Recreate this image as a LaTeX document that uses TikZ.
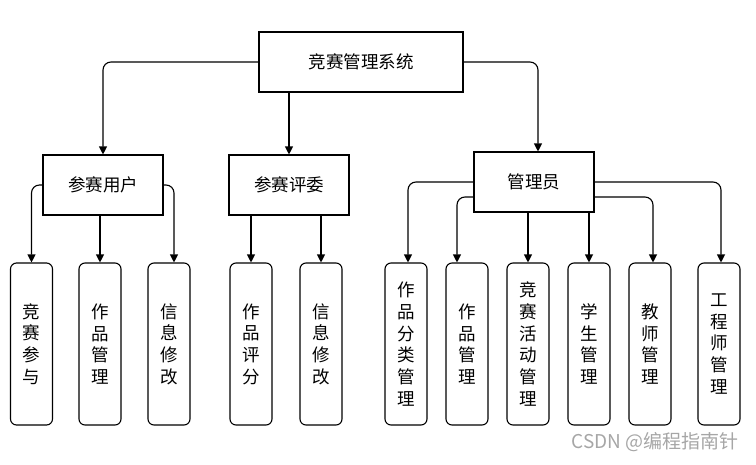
\documentclass[tikz,border=0pt]{standalone}
\usepackage{fontspec}
\setmainfont{Noto Sans CJK SC}
\usetikzlibrary{arrows.meta}
\begin{document}
\begin{tikzpicture}[x=1pt,y=-1pt,
  box/.style={draw,line width=1.1pt,minimum width=120pt,minimum height=60pt,inner sep=0pt,font=\fontsize{17.5}{20}\selectfont},
  leaf/.style={draw,line width=1.1pt,rounded corners=6pt,minimum width=42pt,minimum height=162pt,inner sep=0pt,align=center,font=\fontsize{17.5}{21.7}\selectfont},
  link/.style={line width=1.1pt,rounded corners=8pt,-{Triangle[length=8pt,width=8pt]}}]
\useasboundingbox (0,0) rectangle (756,464);
\node[box,minimum width=204pt] (top) at (361,62) {竞赛管理系统};
\node[box] (u) at (103,185) {参赛用户};
\node[box] (j) at (289,185) {参赛评委};
\node[box] (a) at (534,182) {管理员};
\node[leaf] (c1) at (31.5,344) {竞\\赛\\参\\与};
\node[leaf] (c2) at (100,344) {作\\品\\管\\理};
\node[leaf] (c3) at (169,344) {信\\息\\修\\改};
\node[leaf] (c4) at (251,344) {作\\品\\评\\分};
\node[leaf] (c5) at (321,344) {信\\息\\修\\改};
\node[leaf] (c6) at (406,344) {作\\品\\分\\类\\管\\理};
\node[leaf] (c7) at (467,344) {作\\品\\管\\理};
\node[leaf] (c8) at (528,344) {竞\\赛\\活\\动\\管\\理};
\node[leaf] (c9) at (589,344) {学\\生\\管\\理};
\node[leaf] (c10) at (650,344) {教\\师\\管\\理};
\node[leaf] (c11) at (719,344) {工\\程\\师\\管\\理};
\node[text=black!35,font=\fontsize{19}{22}\selectfont,anchor=east] (wm) at (742,442) {CSDN @编程指南针};
\draw[link] (top.west) -| (u.north);
\draw[link] (j.north |- top.south) -- (j.north);
\draw[link] (top.east) -| ([xshift=4pt]a.north);
\draw[link] (u.west) -| (c1.north);
\draw[link] (c2.north |- u.south) -- (c2.north);
\draw[link] (u.east) -| ([xshift=5pt]c3.north);
\draw[link] (c4.north |- j.south) -- (c4.north);
\draw[link] (c5.north |- j.south) -- (c5.north);
\draw[link] (a.west) -| ([xshift=2pt]c6.north);
\draw[link] ([yshift=-15pt]a.west) -| ([xshift=-10pt]c7.north);
\draw[link] (c8.north |- a.south) -- (c8.north);
\draw[link] (c9.north |- a.south) -- (c9.north);
\draw[link] ([yshift=-15pt]a.east) -| ([xshift=3pt]c10.north);
\draw[link] (a.east) -| ([xshift=2pt]c11.north);
\end{tikzpicture}
\end{document}
